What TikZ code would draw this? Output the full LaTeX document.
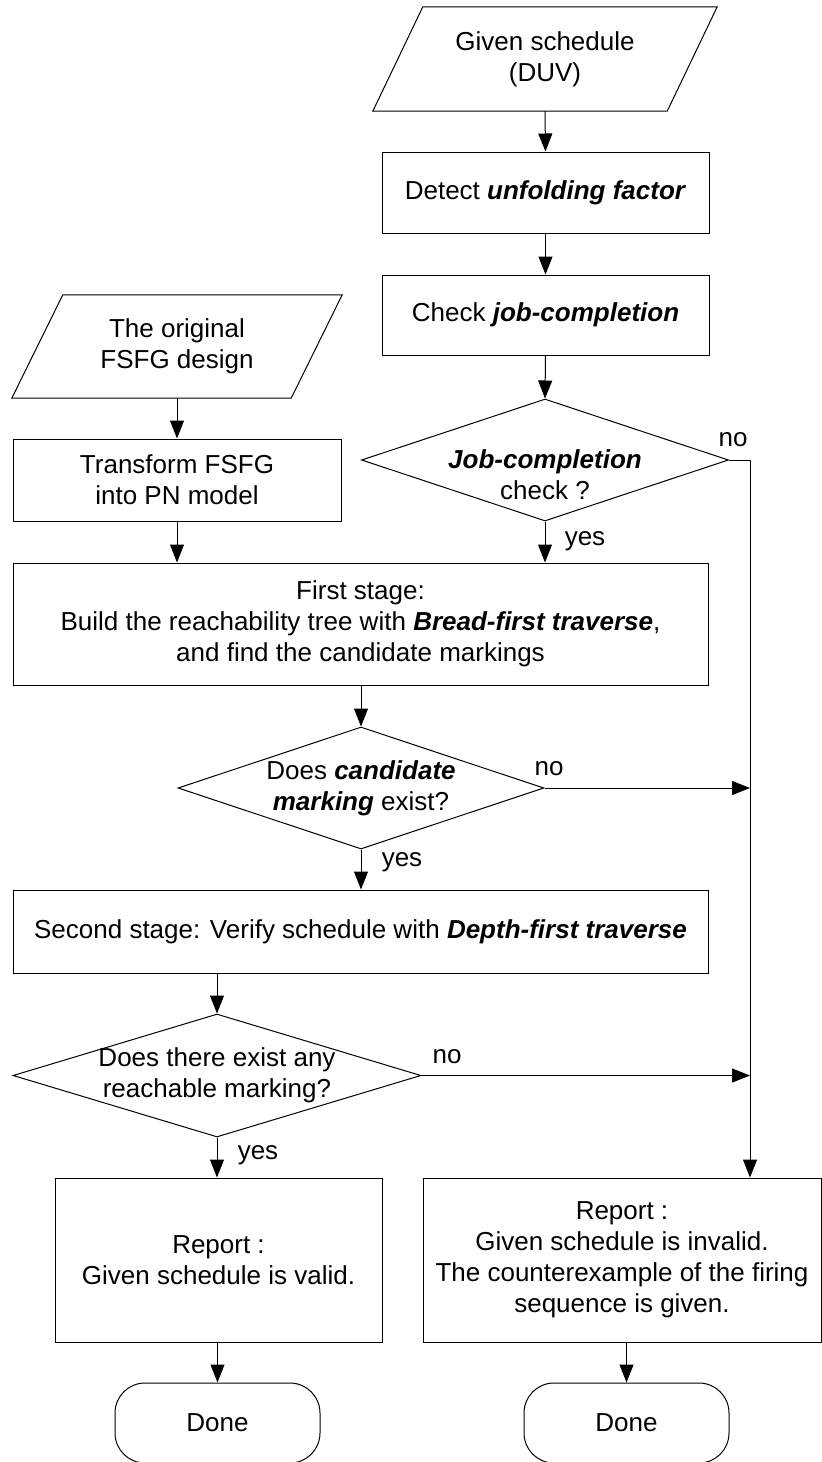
\documentclass[tikz,border=0pt]{standalone}
\usepackage{fontspec}
\setmainfont{Liberation Sans}
\usetikzlibrary{arrows.meta,shapes.geometric,calc}
\newcommand{\bi}[1]{\textbf{\textit{#1}}}
\begin{document}
\begin{tikzpicture}[x=1pt,y=-1pt,
  every node/.style={font=\fontsize{26}{31}\selectfont},
  procbox/.style={draw, line width=1pt, rectangle, inner sep=0pt, align=center},
  iobox/.style={inner sep=0pt, align=center},
  decision/.style={draw, line width=1pt, diamond, inner sep=0pt},
  caption/.style={inner sep=0pt, align=center},
  terminal/.style={draw, line width=1pt, rectangle, rounded corners=30pt, inner sep=0pt, minimum width=205pt, minimum height=80pt},
  flow/.style={line width=1pt, -{Triangle[length=18pt,width=14pt]}},
  plainline/.style={line width=1pt},
  lbl/.style={inner sep=0pt}]
\useasboundingbox (0,0) rectangle (822,1462);
\clip (0,0) rectangle (822,1462);

% input: given schedule
\node[iobox, minimum width=344pt, minimum height=104pt] (duv) at (545,59) {Given schedule\\(DUV)};
\draw[plainline] (duv.south west) -- ($(duv.north west)+(50,0)$) -- (duv.north east) -- ($(duv.south east)-(50,0)$) -- cycle;

\node[procbox, minimum width=327pt, minimum height=81pt] (detect) at (545.5,192.5) {Detect \bi{unfolding factor}};
\node[procbox, minimum width=327pt, minimum height=80pt] (check) at (545.5,315) {Check \bi{job-completion}};

\node[decision, minimum width=367pt, minimum height=122pt] (d1) at (545,460) {};
\node[caption] (d1t) at (545,475) {\bi{Job-completion}\\check ?};

% input: original design
\node[iobox, minimum width=330pt, minimum height=103pt] (fsfg) at (177,346.5) {The original\\FSFG design};
\draw[plainline] (fsfg.south west) -- ($(fsfg.north west)+(51,0)$) -- (fsfg.north east) -- ($(fsfg.south east)-(51,0)$) -- cycle;

\node[procbox, minimum width=328pt, minimum height=82pt] (transform) at (177,480) {Transform FSFG\\into PN model};

\node[procbox, minimum width=695pt, minimum height=122pt] (first) at (360.5,624) {First stage:\\Build the reachability tree with \bi{Bread-first traverse},\\and find the candidate markings};

\node[decision, minimum width=366pt, minimum height=122pt] (d2) at (361,788) {};
\node[caption] (d2t) at (361,788) {Does \bi{candidate}\\\bi{marking} exist?};

\node[procbox, minimum width=695pt, minimum height=83pt] (second) at (360.5,931.5) {Second stage: Verify schedule with \bi{Depth-first traverse}};

\node[decision, minimum width=408pt, minimum height=123pt] (d3) at (217,1075.5) {};
\node[caption] (d3t) at (217,1075.5) {Does there exist any\\reachable marking?};

\node[procbox, minimum width=327pt, minimum height=164pt] (valid) at (218.5,1260) {Report :\\Given schedule is valid.};
\node[procbox, minimum width=398pt, minimum height=164pt] (invalid) at (622,1260) {Report :\\Given schedule is invalid.\\The counterexample of the firing\\sequence is given.};

\node[terminal] (done1) at (217.5,1423) {Done};
\node[terminal] (done2) at (626.5,1423) {Done};

% main flow
\draw[flow] (duv.south) -- (detect.north);
\draw[flow] (detect.south) -- (check.north);
\draw[flow] (check.south) -- (d1.north);
\draw[flow] (fsfg.south) -- (transform.north);
\draw[flow] (transform.south) -- (transform.south |- first.north);
\draw[flow] (d1.south) -- (d1.south |- first.north);
\draw[flow] (d2.north |- first.south) -- (d2.north);
\draw[flow] (d2.south) -- (d2.south |- second.north);
\draw[flow] (d3.north |- second.south) -- (d3.north);
\draw[flow] (d3.south) -- (d3.south |- valid.north);
\draw[flow] (done1.north |- valid.south) -- (done1.north);
\draw[flow] (done2.north |- invalid.south) -- (done2.north);

% failure branch
\coordinate (bus) at ($(d1.east)+(21,0)$);
\draw[plainline] (d1.east) -- (bus);
\draw[flow] (bus) -- (bus |- invalid.north);
\draw[flow] (d2.east) -- (bus |- d2.east);
\draw[flow] (d3.east) -- (bus |- d3.east);

% branch labels
\node[lbl] (no1) at (733,440) {no};
\node[lbl] (yes1) at (585,541) {yes};
\node[lbl] (no2) at (549,769) {no};
\node[lbl] (yes2) at (402,862) {yes};
\node[lbl] (no3) at (447,1057) {no};
\node[lbl] (yes3) at (258,1155) {yes};
\end{tikzpicture}
\end{document}
